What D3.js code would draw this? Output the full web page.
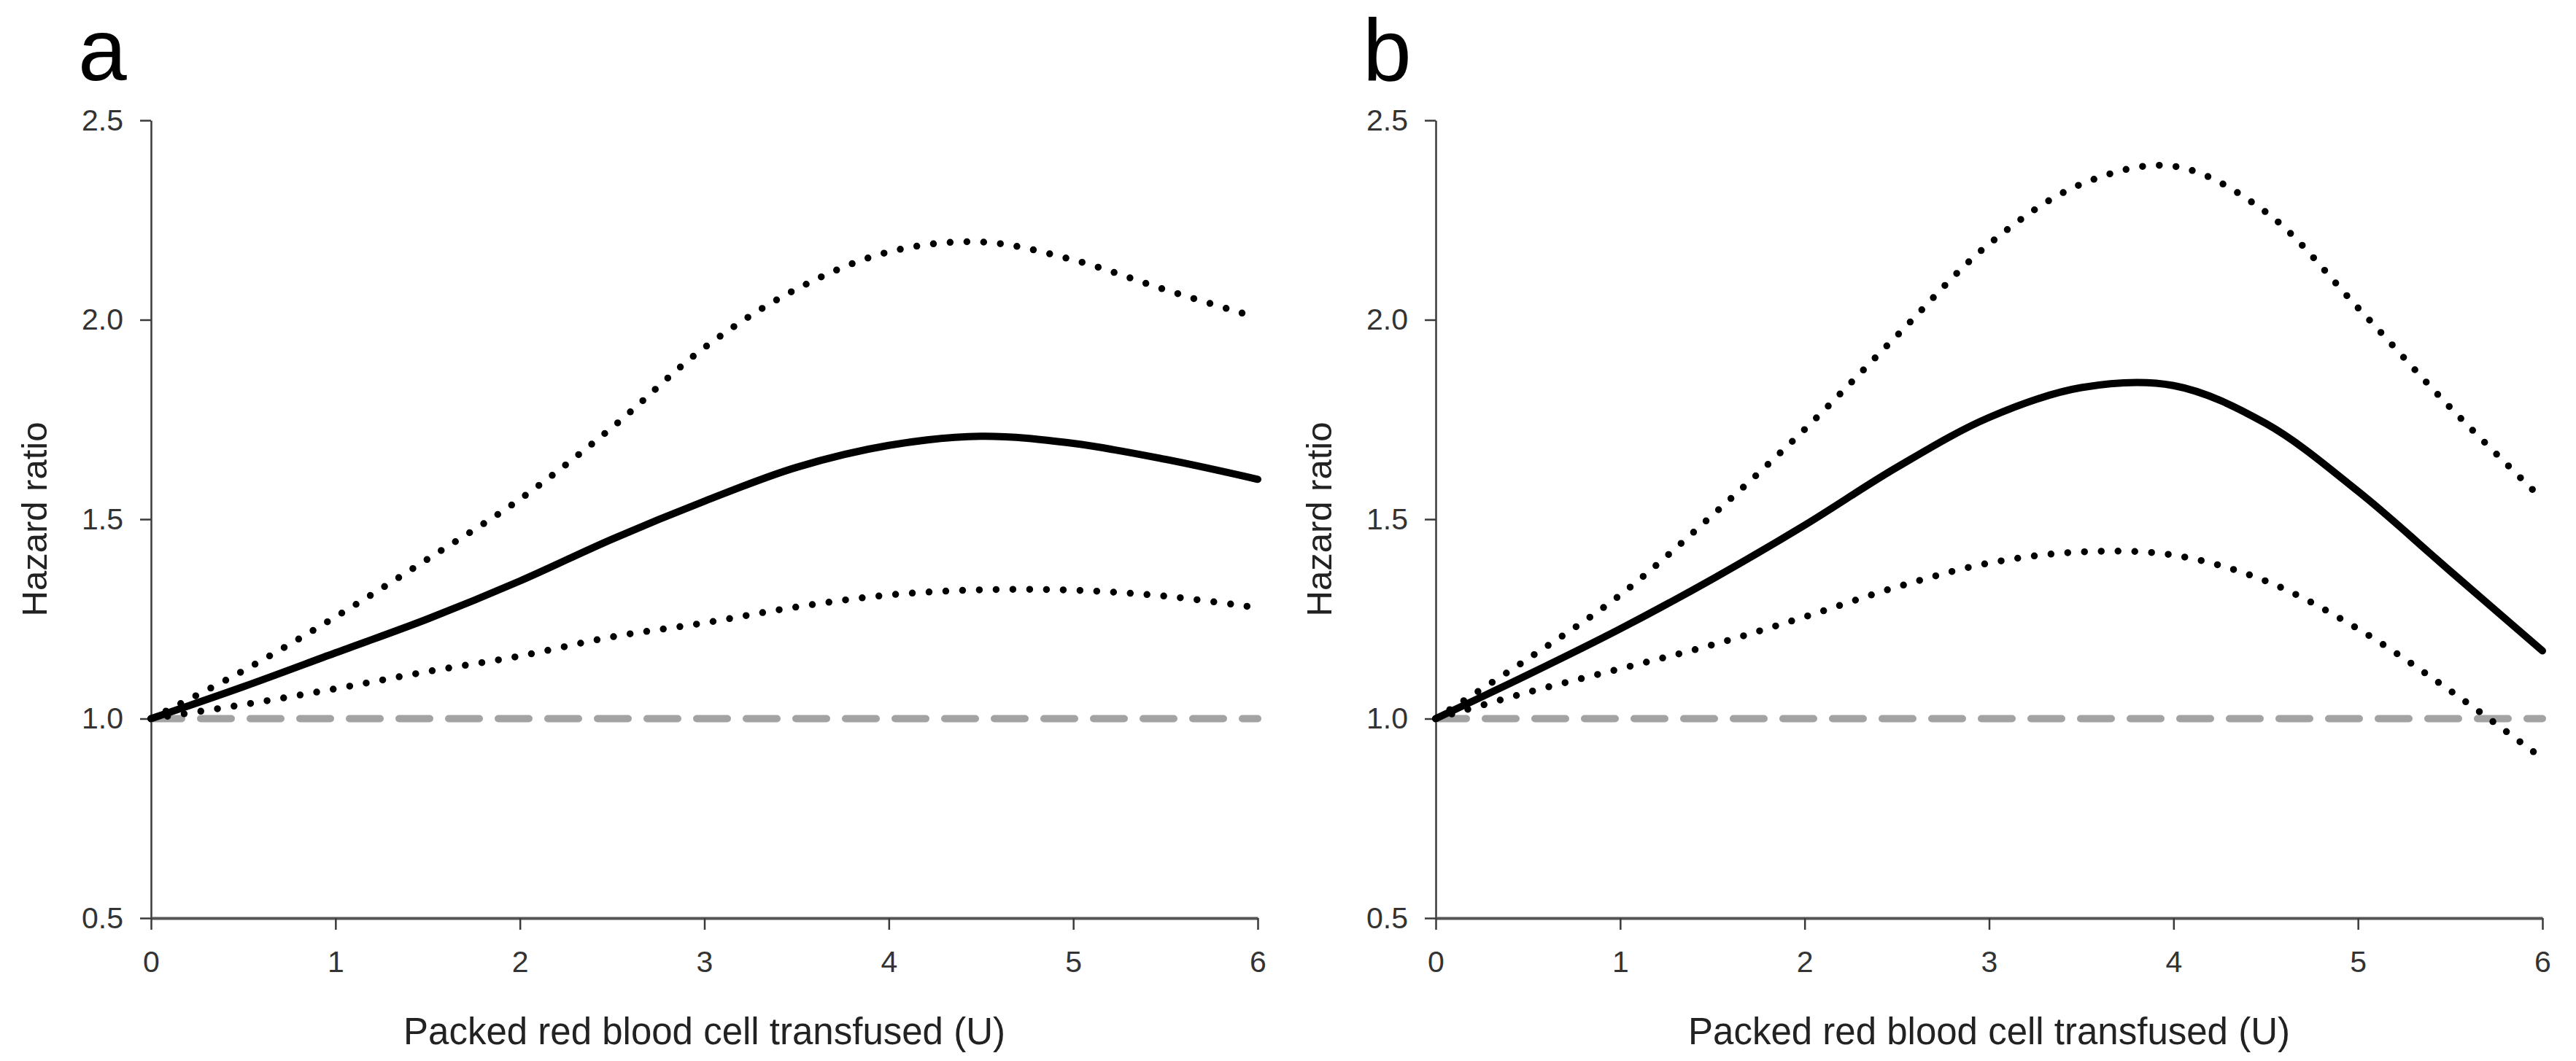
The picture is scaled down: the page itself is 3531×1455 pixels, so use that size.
<!DOCTYPE html>
<html>
<head>
<meta charset="utf-8">
<script src="https://cdn.jsdelivr.net/npm/d3@7"></script>
<style>
  html, body { margin: 0; padding: 0; background: #ffffff; }
  svg { display: block; }
  text { font-family: "Liberation Sans", Arial, sans-serif; }
</style>
</head>
<body>
<svg id="chart" width="3531" height="1455"></svg>
<script>
// ---------------- data ----------------
const panelLabels = ["a", "b"];
const xTitle = "Packed red blood cell transfused (U)";
const yTitle = "Hazard ratio";
const xTicks = [0, 1, 2, 3, 4, 5, 6];
const yTicks = [0.5, 1.0, 1.5, 2.0, 2.5];
const yTickLabels = ["0.5", "1.0", "1.5", "2.0", "2.5"];
const refValue = 1.0;

const units = [0, 0.5, 1, 1.5, 2, 2.5, 3, 3.5, 4, 4.5, 5, 5.5, 6];

// panel a
const hrA    = [1.00, 1.08, 1.165, 1.25, 1.345, 1.45, 1.545, 1.63, 1.685, 1.708, 1.69, 1.65, 1.60];
const upperA = [1.00, 1.12, 1.255, 1.40, 1.55, 1.73, 1.93, 2.077, 2.17, 2.195, 2.15, 2.075, 2.005];
const lowerA = [1.00, 1.035, 1.075, 1.118, 1.157, 1.205, 1.24, 1.28, 1.31, 1.323, 1.322, 1.307, 1.278];

// panel b
const hrB    = [1.00, 1.11, 1.225, 1.35, 1.485, 1.63, 1.755, 1.83, 1.835, 1.74, 1.57, 1.37, 1.17];
const upperB = [1.00, 1.15, 1.31, 1.51, 1.725, 1.96, 2.19, 2.34, 2.385, 2.27, 2.03, 1.78, 1.55];
const lowerB = [1.00, 1.066, 1.125, 1.185, 1.255, 1.33, 1.39, 1.418, 1.41, 1.345, 1.225, 1.07, 0.90];

const panelsData = [
  { label: panelLabels[0], hr: hrA, upper: upperA, lower: lowerA },
  { label: panelLabels[1], hr: hrB, upper: upperB, lower: lowerB }
];

// ---------------- layout ----------------
const svg = d3.select("#chart");
const panelLeft = [207, 1968];
const panelWidth = 1517;
const yTop = 165, yBottom = 1259;

const y = d3.scaleLinear().domain([0.5, 2.5]).range([yBottom, yTop]);

panelsData.forEach((p, i) => {
  const x0 = panelLeft[i];
  const x = d3.scaleLinear().domain([0, 6]).range([x0, x0 + panelWidth]);
  const g = svg.append("g");

  // panel letter
  g.append("text")
    .attr("x", x0 - 100)
    .attr("y", 110)
    .attr("font-size", 120)
    .attr("fill", "#000")
    .text(p.label);

  // y axis
  const yAxis = d3.axisLeft(y)
    .tickValues(yTicks)
    .tickFormat((d, k) => yTickLabels[k])
    .tickSize(15)
    .tickSizeOuter(0)
    .tickPadding(23);
  const ya = g.append("g").attr("transform", `translate(${x0},0)`).call(yAxis);
  ya.select(".domain").attr("stroke", "#3a3a3a").attr("stroke-width", 2.5);
  ya.selectAll(".tick line").attr("stroke", "#3a3a3a").attr("stroke-width", 2.5);
  ya.selectAll(".tick text")
    .attr("font-size", 41)
    .attr("fill", "#333")
    .attr("font-family", "'Liberation Sans', Arial, sans-serif");

  // x axis
  const xAxis = d3.axisBottom(x)
    .tickValues(xTicks)
    .tickFormat(d3.format("d"))
    .tickSize(16)
    .tickSizeOuter(0)
    .tickPadding(29);
  const xa = g.append("g").attr("transform", `translate(0,${yBottom})`).call(xAxis);
  xa.select(".domain").attr("stroke", "#555").attr("stroke-width", 4);
  xa.selectAll(".tick line").attr("stroke", "#3a3a3a").attr("stroke-width", 2.5);
  xa.selectAll(".tick text")
    .attr("font-size", 41)
    .attr("fill", "#333")
    .attr("font-family", "'Liberation Sans', Arial, sans-serif");

  // axis titles
  g.append("text")
    .attr("x", x0 + panelWidth / 2)
    .attr("y", 1432)
    .attr("text-anchor", "middle")
    .attr("font-size", 51)
    .attr("fill", "#222")
    .text(xTitle);

  g.append("text")
    .attr("transform", `translate(${x0 - 143},${(yTop + yBottom) / 2}) rotate(-90)`)
    .attr("text-anchor", "middle")
    .attr("font-size", 49)
    .attr("fill", "#222")
    .text(yTitle);

  // reference line HR = 1
  g.append("line")
    .attr("x1", x(0)).attr("x2", x(6))
    .attr("y1", y(refValue)).attr("y2", y(refValue))
    .attr("stroke", "#a3a3a3")
    .attr("stroke-width", 10)
    .attr("stroke-linecap", "round")
    .attr("stroke-dasharray", "42,26");

  const line = d3.line()
    .x((d, k) => x(units[k]))
    .y(d => y(d))
    .curve(d3.curveCatmullRom.alpha(0.5));

  // confidence bounds (dotted)
  [p.upper, p.lower].forEach(arr => {
    g.append("path")
      .datum(arr)
      .attr("d", line)
      .attr("fill", "none")
      .attr("stroke", "#000")
      .attr("stroke-width", 9.5)
      .attr("stroke-linecap", "round")
      .attr("stroke-dasharray", "0,23");
  });

  // hazard ratio (solid)
  g.append("path")
    .datum(p.hr)
    .attr("d", line)
    .attr("fill", "none")
    .attr("stroke", "#000")
    .attr("stroke-width", 10)
    .attr("stroke-linecap", "round")
    .attr("stroke-linejoin", "round");
});
</script>
</body>
</html>
